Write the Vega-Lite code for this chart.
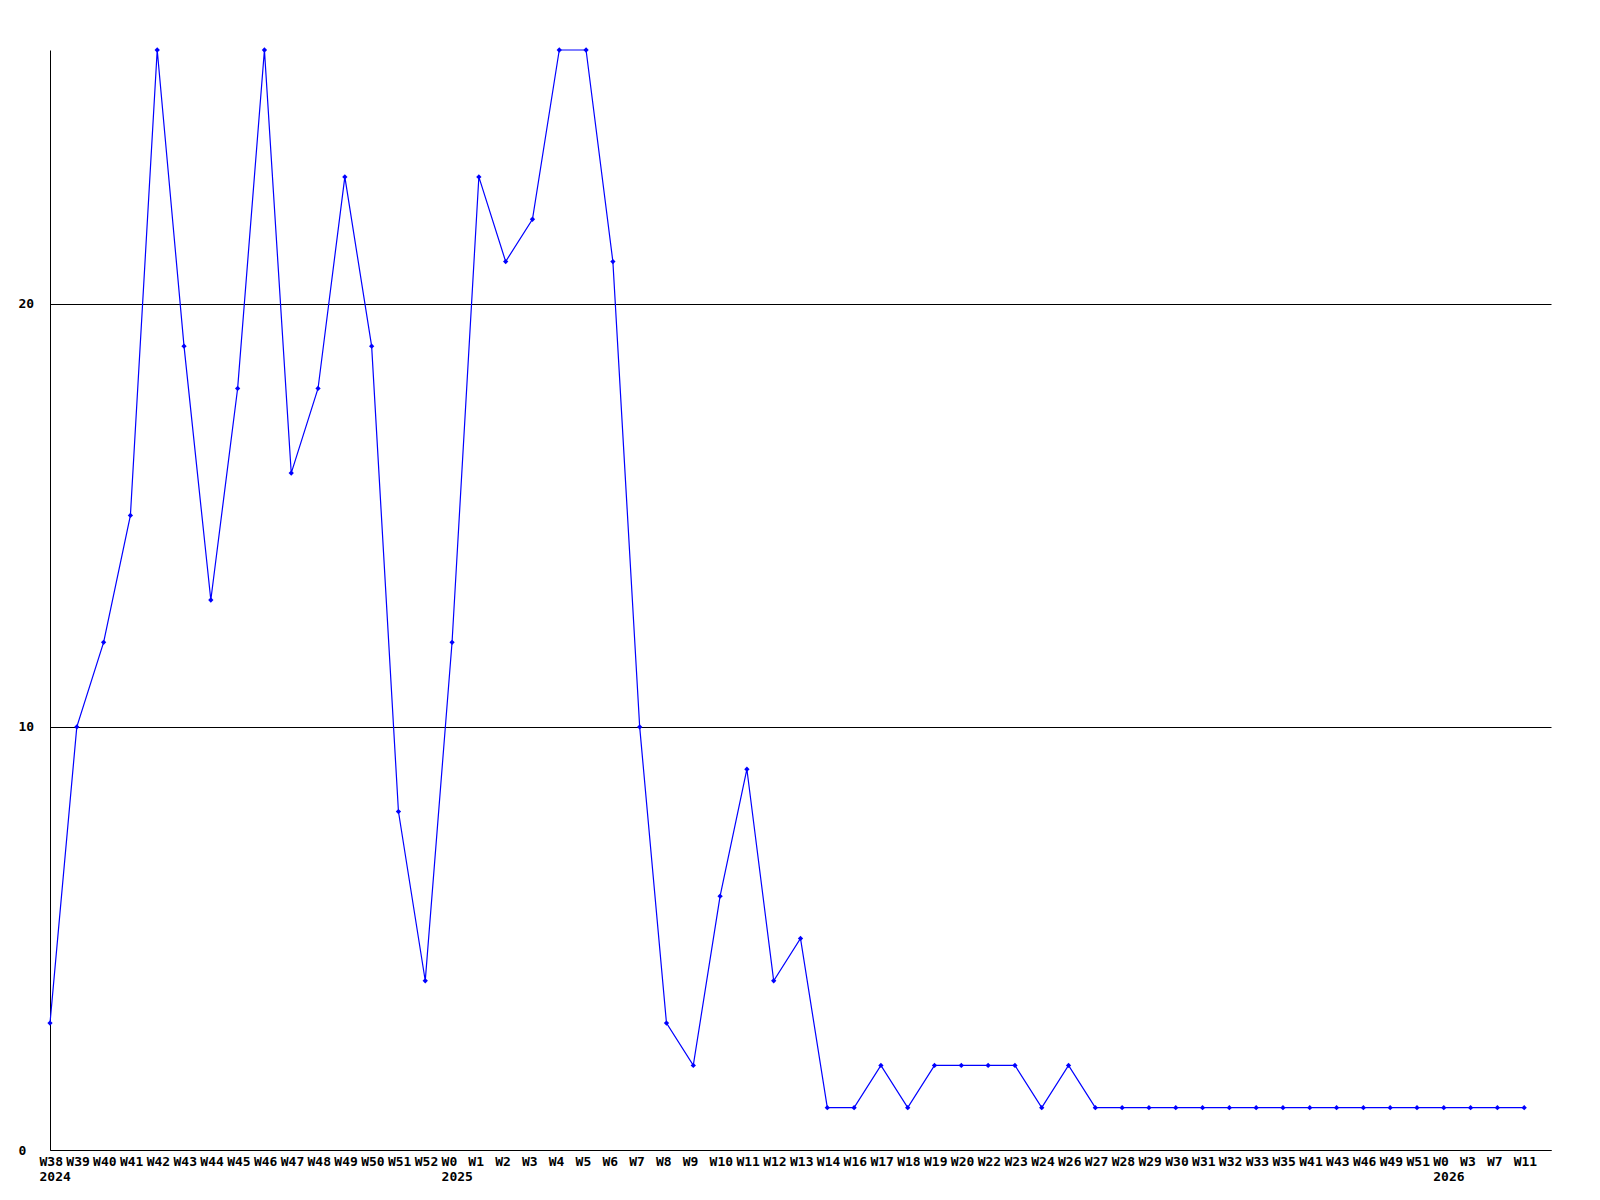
{
  "$schema": "https://vega.github.io/schema/vega-lite/v6.json",
  "width": 1501,
  "height": 1100,
  "autosize": {"type": "none"},
  "padding": {"left": 50, "top": 50, "right": 49, "bottom": 50},
  "background": "white",
  "config": {
    "view": {"stroke": null},
    "axis": {"labelFont": "DejaVu Sans Mono", "labelFontWeight": "bold", "labelFontSize": 13, "labelColor": "black"}
  },
  "data": {
    "values": [
      {"i": 0, "week": "W38", "year": "2024", "count": 3},
      {"i": 1, "week": "W39", "year": "", "count": 10},
      {"i": 2, "week": "W40", "year": "", "count": 12},
      {"i": 3, "week": "W41", "year": "", "count": 15},
      {"i": 4, "week": "W42", "year": "", "count": 26},
      {"i": 5, "week": "W43", "year": "", "count": 19},
      {"i": 6, "week": "W44", "year": "", "count": 13},
      {"i": 7, "week": "W45", "year": "", "count": 18},
      {"i": 8, "week": "W46", "year": "", "count": 26},
      {"i": 9, "week": "W47", "year": "", "count": 16},
      {"i": 10, "week": "W48", "year": "", "count": 18},
      {"i": 11, "week": "W49", "year": "", "count": 23},
      {"i": 12, "week": "W50", "year": "", "count": 19},
      {"i": 13, "week": "W51", "year": "", "count": 8},
      {"i": 14, "week": "W52", "year": "", "count": 4},
      {"i": 15, "week": "W0", "year": "2025", "count": 12},
      {"i": 16, "week": "W1", "year": "", "count": 23},
      {"i": 17, "week": "W2", "year": "", "count": 21},
      {"i": 18, "week": "W3", "year": "", "count": 22},
      {"i": 19, "week": "W4", "year": "", "count": 26},
      {"i": 20, "week": "W5", "year": "", "count": 26},
      {"i": 21, "week": "W6", "year": "", "count": 21},
      {"i": 22, "week": "W7", "year": "", "count": 10},
      {"i": 23, "week": "W8", "year": "", "count": 3},
      {"i": 24, "week": "W9", "year": "", "count": 2},
      {"i": 25, "week": "W10", "year": "", "count": 6},
      {"i": 26, "week": "W11", "year": "", "count": 9},
      {"i": 27, "week": "W12", "year": "", "count": 4},
      {"i": 28, "week": "W13", "year": "", "count": 5},
      {"i": 29, "week": "W14", "year": "", "count": 1},
      {"i": 30, "week": "W16", "year": "", "count": 1},
      {"i": 31, "week": "W17", "year": "", "count": 2},
      {"i": 32, "week": "W18", "year": "", "count": 1},
      {"i": 33, "week": "W19", "year": "", "count": 2},
      {"i": 34, "week": "W20", "year": "", "count": 2},
      {"i": 35, "week": "W22", "year": "", "count": 2},
      {"i": 36, "week": "W23", "year": "", "count": 2},
      {"i": 37, "week": "W24", "year": "", "count": 1},
      {"i": 38, "week": "W26", "year": "", "count": 2},
      {"i": 39, "week": "W27", "year": "", "count": 1},
      {"i": 40, "week": "W28", "year": "", "count": 1},
      {"i": 41, "week": "W29", "year": "", "count": 1},
      {"i": 42, "week": "W30", "year": "", "count": 1},
      {"i": 43, "week": "W31", "year": "", "count": 1},
      {"i": 44, "week": "W32", "year": "", "count": 1},
      {"i": 45, "week": "W33", "year": "", "count": 1},
      {"i": 46, "week": "W35", "year": "", "count": 1},
      {"i": 47, "week": "W41", "year": "", "count": 1},
      {"i": 48, "week": "W43", "year": "", "count": 1},
      {"i": 49, "week": "W46", "year": "", "count": 1},
      {"i": 50, "week": "W49", "year": "", "count": 1},
      {"i": 51, "week": "W51", "year": "", "count": 1},
      {"i": 52, "week": "W0", "year": "2026", "count": 1},
      {"i": 53, "week": "W3", "year": "", "count": 1},
      {"i": 54, "week": "W7", "year": "", "count": 1},
      {"i": 55, "week": "W11", "year": "", "count": 1}
    ]
  },
  "encoding": {
    "x": {
      "field": "i",
      "type": "quantitative",
      "scale": {"domain": [0, 56], "nice": false, "zero": false},
      "axis": {
        "title": null,
        "values": [0,1,2,3,4,5,6,7,8,9,10,11,12,13,14,15,16,17,18,19,20,21,22,23,24,25,26,27,28,29,30,31,32,33,34,35,36,37,38,39,40,41,42,43,44,45,46,47,48,49,50,51,52,53,54,55],
        "labelExpr": "datum.value == 0 ? ['W38','2024'] : datum.value == 15 ? ['W0','2025'] : datum.value == 52 ? ['W0','2026'] : [['W38','W39','W40','W41','W42','W43','W44','W45','W46','W47','W48','W49','W50','W51','W52','W0','W1','W2','W3','W4','W5','W6','W7','W8','W9','W10','W11','W12','W13','W14','W16','W17','W18','W19','W20','W22','W23','W24','W26','W27','W28','W29','W30','W31','W32','W33','W35','W41','W43','W46','W49','W51','W0','W3','W7','W11'][datum.value]]",
        "labelAlign": "left",
        "labelBaseline": "top",
        "labelOffset": -11,
        "labelPadding": 5,
        "labelLineHeight": 15,
        "labelOverlap": false,
        "labelFlush": false,
        "labelBound": false,
        "ticks": false,
        "grid": false,
        "domainColor": "black",
        "domainWidth": 1
      }
    },
    "y": {
      "field": "count",
      "type": "quantitative",
      "scale": {"domain": [0, 26], "nice": false},
      "axis": {
        "title": null,
        "values": [0, 10, 20],
        "labelAlign": "left",
        "labelBaseline": "middle",
        "labelPadding": 32,
        "ticks": false,
        "grid": true,
        "gridColor": "black",
        "gridOpacity": 1,
        "gridWidth": 1,
        "domainColor": "black",
        "domainWidth": 1
      }
    }
  },
  "layer": [
    {"mark": {"type": "line", "color": "#0000FF", "strokeWidth": 1.2}},
    {"mark": {"type": "point", "shape": "diamond", "filled": true, "color": "#0000FF", "size": 28, "opacity": 1}}
  ]
}
